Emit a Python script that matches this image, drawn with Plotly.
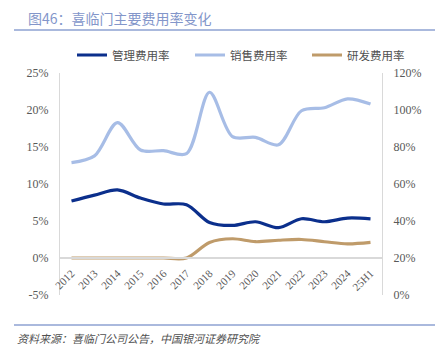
import plotly.graph_objects as go

years = ["2012", "2013", "2014", "2015", "2016", "2017", "2018", "2019",
         "2020", "2021", "2022", "2023", "2024", "25H1"]
admin_rate = [7.7, 8.5, 9.2, 8.1, 7.3, 7.2, 4.8, 4.4, 4.9, 4.1, 5.3, 4.9, 5.4, 5.3]
sales_rate = [12.9, 13.8, 18.3, 14.6, 14.5, 14.1, 22.4, 16.4, 16.3, 15.3, 19.9, 20.3, 21.5, 20.8]
rd_rate = [0.0, 0.0, 0.0, 0.0, 0.0, 0.0, 2.1, 2.6, 2.2, 2.4, 2.5, 2.2, 1.9, 2.1]

names = ["管理费用率", "销售费用率", "研发费用率"]
colors = ["#0b2f8c", "#a7bde6", "#bf9b6a"]
legend_ids = ["legend", "legend2", "legend3"]
legend_px = [72, 190, 307]

left_ticks = [-5, 0, 5, 10, 15, 20, 25]
right_ticks = [0, 20, 40, 60, 80, 100, 120]

CJK = "Noto Sans CJK SC"
SERIF = "Liberation Serif"

fig = go.Figure()
for name, vals, col, lg in zip(names, [admin_rate, sales_rate, rd_rate], colors, legend_ids):
    fig.add_trace(go.Scatter(
        x=years, y=vals, name=name, mode="lines", legend=lg,
        line=dict(color=col, width=3.2, shape="spline", smoothing=0.9),
        hoverinfo="skip"))

# empty trace to carry the secondary axis
fig.add_trace(go.Scatter(x=years, y=[None] * len(years), yaxis="y2",
                         showlegend=False, hoverinfo="skip", mode="lines"))

legend_style = dict(orientation="h", xanchor="left", yanchor="middle",
                    font=dict(family=CJK, size=11.5, color="#505050"),
                    itemwidth=30, bgcolor="rgba(0,0,0,0)")
legend_layout = {}
for lg, px in zip(legend_ids, legend_px):
    legend_layout[lg] = dict(legend_style, x=(px - 60) / 322, y=(295 - 55) / 222)

fig.update_layout(
    width=445, height=350,
    margin=dict(l=60, r=63, t=73, b=55),
    paper_bgcolor="white", plot_bgcolor="white",
    showlegend=True,
    **legend_layout,
    xaxis=dict(type="category", range=[-0.5, 13.5], anchor="free",
               position=(0 - (-5)) / 30.0,
               showline=True, linecolor="#d9d9d9", linewidth=1.5,
               showgrid=False, zeroline=False,
               tickangle=-45, ticks="outside", ticklen=4, tickcolor="rgba(0,0,0,0)",
               tickfont=dict(family=SERIF, size=11, color="#595959")),
    yaxis=dict(range=[-5, 25], tickvals=left_ticks,
               ticktext=[f"{v}%" for v in left_ticks],
               showgrid=False, zeroline=False,
               showline=True, linecolor="#d9d9d9", linewidth=1,
               ticks="outside", ticklen=8, tickcolor="rgba(0,0,0,0)",
               tickfont=dict(family=SERIF, size=12, color="#595959")),
    yaxis2=dict(range=[0, 120], tickvals=right_ticks,
                ticktext=[f"{v}%" for v in right_ticks],
                overlaying="y", side="right", anchor="x",
                showgrid=False, zeroline=False,
                showline=True, linecolor="#d9d9d9", linewidth=1,
                ticks="outside", ticklen=8, tickcolor="rgba(0,0,0,0)",
                tickfont=dict(family=SERIF, size=12, color="#595959")),
)

# title and source
fig.add_annotation(text="图46：喜临门主要费用率变化", xref="paper", yref="paper",
                   x=(26 - 60) / 322, y=(295 - 18) / 222, xanchor="left", yanchor="middle",
                   showarrow=False, font=dict(family=CJK, size=14, color="#8396ca"))
fig.add_annotation(text="<i>资料来源：喜临门公司公告，中国银河证券研究院</i>", xref="paper", yref="paper",
                   x=(15 - 60) / 322, y=(295 - 338) / 222, xanchor="left", yanchor="middle",
                   showarrow=False, font=dict(family=CJK, size=11, color="#505050"))
fig.add_shape(type="line", xref="paper", yref="paper",
              x0=(14 - 60) / 322, x1=(435 - 60) / 322,
              y0=(295 - 30) / 222, y1=(295 - 30) / 222,
              line=dict(color="#8ea2d2", width=1.5))
fig.add_shape(type="line", xref="paper", yref="paper",
              x0=(14 - 60) / 322, x1=(435 - 60) / 322,
              y0=(295 - 325) / 222, y1=(295 - 325) / 222,
              line=dict(color="#8ea2d2", width=1.5))

fig.write_html("out.html")
